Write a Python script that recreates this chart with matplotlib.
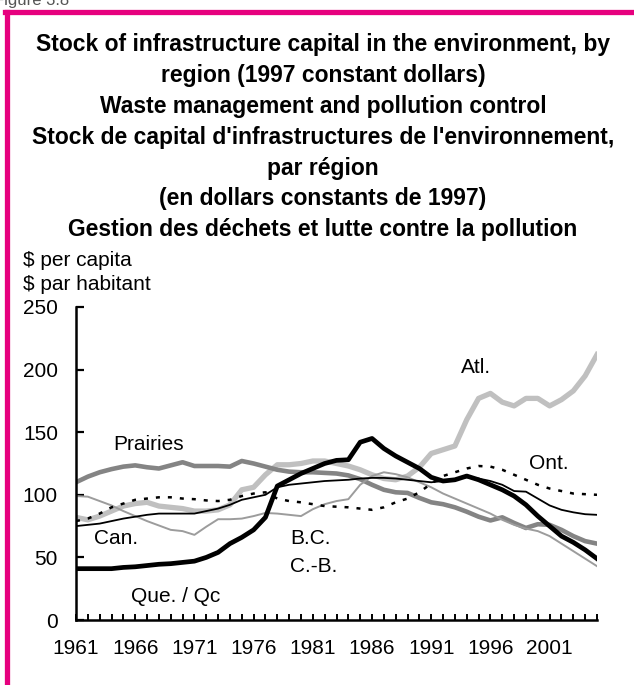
import matplotlib
matplotlib.use("Agg")
import matplotlib.pyplot as plt
from matplotlib.lines import Line2D
import numpy as np

plt.rcParams['font.family'] = ['Liberation Sans', 'DejaVu Sans']

# data, $ per capita, 1961-2005
years = list(range(1961, 2006))
atl = [82, 80, 83, 87, 91, 93, 94, 91, 90, 89, 87,
       87, 88, 92, 104, 106, 116, 124, 124, 125, 127,
       127, 125, 123, 120, 116, 113, 112, 115, 122, 133,
       136, 139, 160, 177, 181, 174, 171, 177, 177, 171,
       176, 183, 195, 212]
que = [41, 41, 41, 41, 42, 42.5, 43.5, 44.5, 45, 46, 47,
       50, 54, 61, 66, 72, 82, 107, 112, 117, 121,
       125, 127.5, 128, 142, 145, 137, 131, 126, 121, 114,
       111, 112, 115, 112, 108, 104, 99, 92, 83, 75,
       67, 62, 56, 49]
can = [75, 76, 77, 79, 81, 82.5, 84, 85, 85, 85, 85,
       87, 89, 92, 96, 98, 100, 106, 108, 109, 110,
       111, 111.5, 112, 113, 113.5, 113.5, 113, 112, 111, 110,
       111, 112.5, 114, 113, 111, 108, 103, 102.5, 97, 91.5,
       88, 86, 84.5, 84]
ont = [79, 81, 85, 90, 93, 96, 97, 98, 98, 97, 96.5,
       95.5, 95, 96, 99, 101, 102, 97, 95, 94, 92.5,
       91, 90.5, 90, 89, 88, 90, 94, 97, 102, 109,
       115, 118, 121, 123, 122.5, 120, 116, 112, 108, 105,
       103, 101, 100.5, 100]
bc = [99, 98.5, 95, 91.5, 87, 83, 79, 75.5, 72, 71, 68,
      74.5, 80.5, 80.5, 81, 83, 85.5, 85, 84, 83, 88.5,
      92.5, 95, 96.5, 108, 115, 118, 116.5, 114, 110, 106,
      101, 97, 93, 89, 85, 80, 76, 73, 71, 67,
      61, 55, 49, 43]
prairies = [110, 114.5, 118, 120.5, 122.5, 123.5, 122, 121, 123.5, 126, 123,
            123, 123, 122.5, 127, 125, 122.5, 120, 118.5, 118, 118,
            117.5, 117, 115.5, 112.5, 108, 104, 102, 101.5, 97.5, 94,
            92.5, 90, 86.5, 82.5, 79.5, 82, 77.5, 73.5, 76.5, 76,
            72, 67, 63, 61]

label_years = [1961, 1966, 1971, 1976, 1981, 1986, 1991, 1996, 2001]
y_ticks = [0, 50, 100, 150, 200, 250]

title_lines = [
    "Stock of infrastructure capital in the environment, by",
    "region (1997 constant dollars)",
    "Waste management and pollution control",
    "Stock de capital d'infrastructures de l'environnement,",
    "par région",
    "(en dollars constants de 1997)",
    "Gestion des déchets et lutte contre la pollution",
]

W, H = 634, 685
fig = plt.figure(figsize=(W / 100, H / 100), dpi=100)

# pink frame (left and top only, cut by the image)
pink = "#E6007E"
fig.add_artist(Line2D([7 / W, 7 / W], [0, 1 - 12 / H], color=pink, lw=3.8,
                      transform=fig.transFigure))
fig.add_artist(Line2D([5 / W, 1], [1 - 12 / H, 1 - 12 / H], color=pink, lw=3.8,
                      transform=fig.transFigure))
fig.text(-6 / W, 1 - 1 / H, "Figure 3.8", fontsize=12, color="#555555", va="center")

for i, line in enumerate(title_lines):
    fig.text(323 / W, 1 - (45 + 30.8 * i) / H, line, ha="center", va="center",
             fontsize=16.5, fontweight="bold")

fig.text(23 / W, 1 - 260 / H, "$ per capita", fontsize=15, va="center")
fig.text(23 / W, 1 - 284 / H, "$ par habitant", fontsize=15, va="center")

ax = fig.add_axes([76 / W, 1 - 620 / H, (597 - 76) / W, (620 - 307) / H])

ax.plot(years, atl, color="#C0C0C0", lw=3.8)
ax.plot(years, prairies, color="#848484", lw=3.3)
ax.plot(years, bc, color="#9C9C9C", lw=1.4)
ax.plot(years, ont, color="black", lw=1.8, linestyle=(0, (1.6, 3.2)))
ax.plot(years, can, color="black", lw=1.3)
ax.plot(years, que, color="black", lw=3.4)

lab = dict(fontsize=15, va="center")
ax.text(1994.8, 202, "Atl.", ha="center", **lab)
ax.text(2000.9, 125, "Ont.", ha="center", **lab)
ax.text(1967.1, 140.5, "Prairies", ha="center", **lab)
ax.text(1964.4, 65, "Can.", ha="center", **lab)
ax.text(1979.1, 65, "B.C.", ha="left", **lab)
ax.text(1979.1, 43, "C.-B.", ha="left", **lab)
ax.text(1969.4, 19, "Que. / Qc", ha="center", **lab)

ax.set_xlim(1961, 2005)
ax.set_ylim(0, 250)
ax.set_yticks(y_ticks)
ax.set_xticks(label_years)
ax.set_xticks(years, minor=True)
ax.tick_params(axis="y", direction="in", length=6, width=1.6, pad=13, labelsize=15)
ax.tick_params(axis="x", which="both", direction="in", length=4, width=1.4,
               pad=14, labelsize=15)
for s in ["top", "right"]:
    ax.spines[s].set_visible(False)
for s in ["left", "bottom"]:
    ax.spines[s].set_linewidth(1.8)
ax.patch.set_alpha(0)

fig.savefig("out.png", dpi=100)
